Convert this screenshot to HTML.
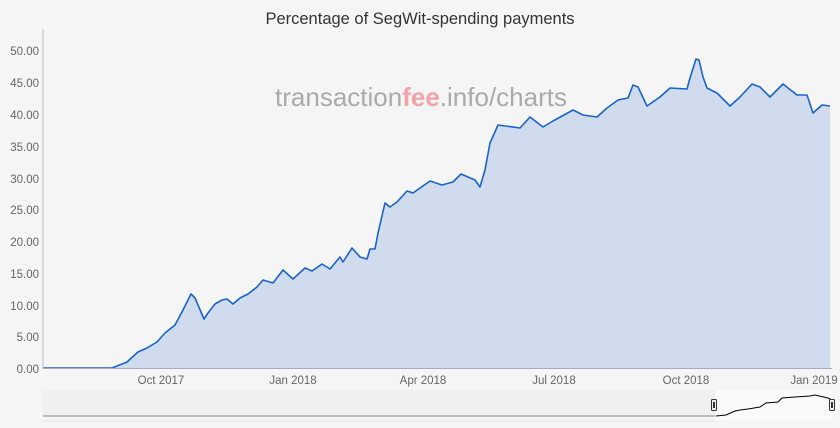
<!DOCTYPE html>
<html><head><meta charset="utf-8"><style>
body{margin:0;background:#f5f5f5;}
svg{display:block;font-family:"Liberation Sans",sans-serif;}
</style></head><body>
<svg width="840" height="428" viewBox="0 0 840 428">
<rect width="840" height="428" fill="#f5f5f5"/>
<text x="420" y="24" text-anchor="middle" font-size="16.5" fill="#333">Percentage of SegWit-spending payments</text>
<g font-size="11.5" fill="#666" text-anchor="end">
<text x="39" y="373">0.00</text><text x="39" y="341">5.00</text><text x="39" y="310">10.00</text>
<text x="39" y="278">15.00</text><text x="39" y="246">20.00</text><text x="39" y="214">25.00</text>
<text x="39" y="183">30.00</text><text x="39" y="151">35.00</text><text x="39" y="119">40.00</text>
<text x="39" y="87">45.00</text><text x="39" y="55">50.00</text>
</g>
<g font-size="11.5" fill="#666" text-anchor="middle">
<text x="161" y="384">Oct 2017</text><text x="293" y="384">Jan 2018</text><text x="423" y="384">Apr 2018</text>
<text x="554" y="384">Jul 2018</text><text x="686" y="384">Oct 2018</text><text x="814" y="384">Jan 2019</text>
</g>
<text x="421" y="106" text-anchor="middle" font-size="26" fill="#aaa">transaction<tspan fill="#f5a3a8" font-weight="bold">fee</tspan>.info/charts</text>
<path fill="#d0dcee" d="M43,368 L112,368 L127,362 L138,352 L147,348 L157,342 L165,333 L175,325 L183,310 L191,294 L195,298 L204,319 L208,313 L215,304 L222,300 L227,299 L233,304 L240,298 L248,294 L257,287 L263,280 L273,283 L283,270 L293,279 L305,268 L312,271 L322,264 L330,269 L340,257 L343,262 L352,248 L360,257 L367,259 L370,249 L375,249 L378,233 L385,203 L390,207 L397,202 L407,191 L413,193 L420,188 L430,181 L442,185 L453,182 L461,174 L475,180 L480,187 L485,170 L490,143 L498,125 L520,128 L530,117 L543,127 L553,121 L573,110 L583,115 L597,117 L607,108 L618,100 L628,98 L633,85 L638,87 L647,106 L660,97 L670,88 L687,89 L690,78 L696,59 L699,60 L703,77 L707,88 L717,93 L730,106 L740,97 L752,84 L760,87 L770,97 L783,84 L797,95 L807,95 L813,113 L822,105 L830,106 L830,368 Z"/>
<polyline fill="none" stroke="#1a62d4" stroke-width="1.6" stroke-linejoin="round" points="43,368 112,368 127,362 138,352 147,348 157,342 165,333 175,325 183,310 191,294 195,298 204,319 208,313 215,304 222,300 227,299 233,304 240,298 248,294 257,287 263,280 273,283 283,270 293,279 305,268 312,271 322,264 330,269 340,257 343,262 352,248 360,257 367,259 370,249 375,249 378,233 385,203 390,207 397,202 407,191 413,193 420,188 430,181 442,185 453,182 461,174 475,180 480,187 485,170 490,143 498,125 520,128 530,117 543,127 553,121 573,110 583,115 597,117 607,108 618,100 628,98 633,85 638,87 647,106 660,97 670,88 687,89 690,78 696,59 699,60 703,77 707,88 717,93 730,106 740,97 752,84 760,87 770,97 783,84 797,95 807,95 813,113 822,105 830,106"/>
<line x1="43" y1="29" x2="43" y2="369" stroke="#bbb" stroke-width="1"/>
<line x1="43" y1="368.5" x2="832" y2="368.5" stroke="#aab" stroke-width="1"/>
<rect x="43" y="390" width="672" height="26" fill="#f0f0f0"/>
<rect x="715" y="390" width="117" height="30" fill="#fafafa"/>
<line x1="43" y1="416" x2="715" y2="416" stroke="#888" stroke-width="1"/>
<line x1="43" y1="421" x2="715" y2="421" stroke="#e4e4e4" stroke-width="1"/>
<polyline fill="none" stroke="#000" stroke-width="1" points="716,416 726,415 735,411 740,410 748,409 760,407 766,403 778,402 782,398 795,397 810,396 815,395 828,398 832,400"/>
<rect x="711.5" y="399.5" width="5" height="11" rx="1" fill="#f2f2f2" stroke="#333"/>
<line x1="713.5" y1="402" x2="713.5" y2="408" stroke="#333"/><line x1="714.5" y1="402" x2="714.5" y2="408" stroke="#333"/>
<rect x="829.5" y="399.5" width="5" height="11" rx="1" fill="#f2f2f2" stroke="#333"/>
<line x1="831.5" y1="402" x2="831.5" y2="408" stroke="#333"/><line x1="832.5" y1="402" x2="832.5" y2="408" stroke="#333"/>
</svg>
</body></html>
